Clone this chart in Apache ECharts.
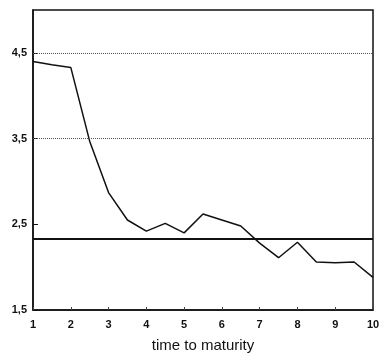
<!DOCTYPE html>
<html>
<head>
<meta charset="utf-8">
<script src="https://cdn.jsdelivr.net/npm/echarts@6/dist/echarts.min.js"></script>
<style>
  html, body { margin: 0; padding: 0; background: #fff; }
  #chart { width: 381px; height: 354px; }
</style>
</head>
<body>
<div id="chart"></div>
<script>
// time to maturity (years) and the value
const maturity = [1, 1.5, 2, 2.5, 3, 3.5, 4, 4.5, 5, 5.5, 6, 6.5, 7, 7.5, 8, 8.5, 9, 9.5, 10];
const values = [4.40, 4.36, 4.33, 3.47, 2.87, 2.55, 2.42, 2.51, 2.40, 2.62, 2.55, 2.48, 2.28, 2.11, 2.29, 2.06, 2.05, 2.06, 1.88];

const xTicks = [1, 2, 3, 4, 5, 6, 7, 8, 9, 10];
const yTicks = [1.5, 2.5, 3.5, 4.5];
const dottedLevels = [4.5, 3.5];
const solidLevel = 2.33;

const chart = echarts.init(document.getElementById('chart'));

const labelFont = {
    color: '#111',
    fontFamily: 'Liberation Sans, Arial, sans-serif',
    fontWeight: 'bold',
    fontSize: 11
};

chart.setOption({
    animation: false,
    grid: {
        left: 33, right: 8, top: 10, bottom: 44,
        outerBoundsMode: 'none',
        containLabel: false,
        show: true,
        borderColor: '#111',
        borderWidth: 1.5
    },
    xAxis: {
        type: 'value',
        min: 1,
        max: 10,
        interval: 1,
        name: 'time to maturity',
        nameLocation: 'middle',
        nameGap: 28,
        nameTextStyle: {
            color: '#111',
            fontFamily: 'Liberation Sans, Arial, sans-serif',
            fontSize: 15
        },
        axisLine: { lineStyle: { color: '#111', width: 1.5 } },
        axisTick: { inside: true, length: 3, lineStyle: { color: '#444' }, customValues: xTicks },
        axisLabel: Object.assign({ margin: 9, customValues: xTicks }, labelFont),
        splitLine: { show: false }
    },
    yAxis: {
        type: 'value',
        min: 1.5,
        max: 5,
        axisLine: { lineStyle: { color: '#111', width: 1.5 } },
        axisTick: { inside: true, length: 5, lineStyle: { color: '#111' }, customValues: yTicks },
        axisLabel: Object.assign({
            margin: 6,
            customValues: yTicks,
            formatter: v => String(v).replace('.', ',')
        }, labelFont),
        splitLine: { show: false }
    },
    series: [{
        type: 'line',
        data: maturity.map((m, i) => [m, values[i]]),
        showSymbol: false,
        lineStyle: { color: '#111', width: 1.5 },
        markLine: {
            silent: true,
            symbol: 'none',
            label: { show: false },
            data: [
                ...dottedLevels.map(v => ({ yAxis: v, lineStyle: { type: 'dotted', color: '#555', width: 1 } })),
                { yAxis: solidLevel, lineStyle: { type: 'solid', color: '#111', width: 2 } }
            ]
        }
    }]
});
</script>
</body>
</html>
